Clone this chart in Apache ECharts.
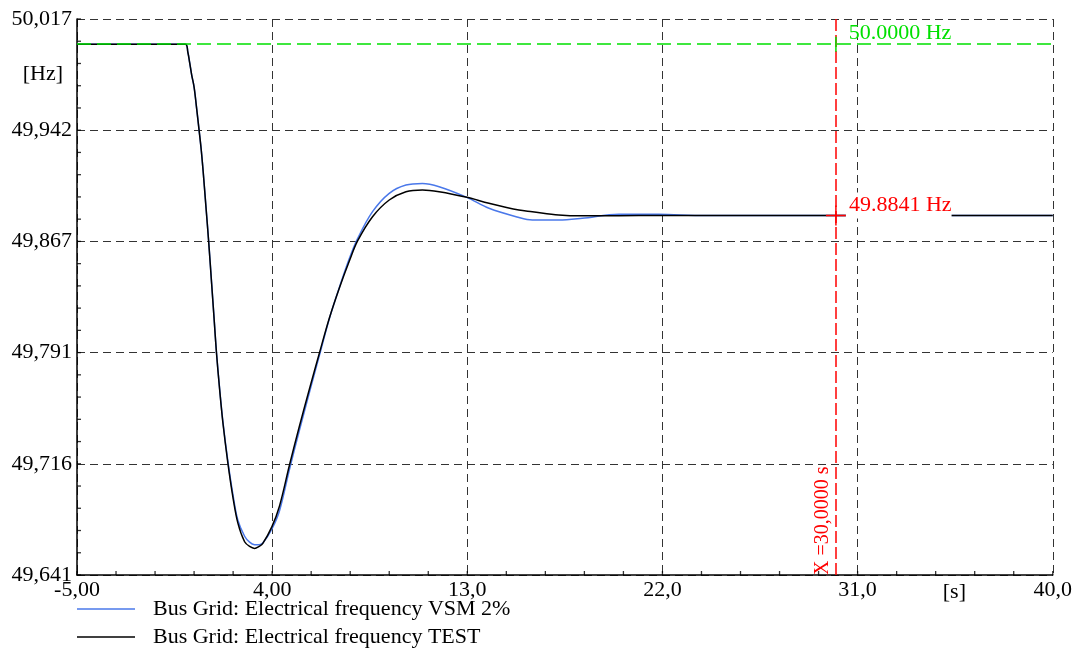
<!DOCTYPE html>
<html>
<head>
<meta charset="utf-8">
<script src="https://cdn.jsdelivr.net/npm/echarts@6/dist/echarts.min.js"></script>
<style>
  html, body { margin: 0; padding: 0; background: #fff; }
  #chart { width: 1075px; height: 652px; }
</style>
</head>
<body>
<div id="chart"></div>
<script>
// Simulation time [s]
const timeS = [-5, 0, 0.11, 0.2, 0.29, 0.4, 0.5, 0.63, 0.73, 0.82, 0.94, 1.07, 1.21, 1.32, 1.43, 1.58, 1.73, 1.96, 2.19, 2.42, 2.73, 2.96, 3.19, 3.4, 3.57, 3.99, 4.34, 4.8, 5.26, 5.72, 6.18, 6.64, 7.1, 7.56, 7.94, 8.63, 9.4, 10.17, 10.93, 11.7, 12.98, 14.0, 15.38, 16.0, 17.22, 18.3, 19.99, 21.83, 24, 30, 40];

// Bus Grid electrical frequency [Hz], VSM 2% case
const freqVsm = [50.0, 50.0, 49.9947, 49.9872, 49.9791, 49.9710, 49.9588, 49.9419, 49.9285, 49.9137, 49.8915, 49.8672, 49.8382, 49.8152, 49.7920, 49.7667, 49.7446, 49.7178, 49.6955, 49.6780, 49.6672, 49.6632, 49.6615, 49.6614, 49.6626, 49.6722, 49.6845, 49.7125, 49.7390, 49.7645, 49.7895, 49.8145, 49.8355, 49.8550, 49.8685, 49.8867, 49.8991, 49.9047, 49.9058, 49.9036, 49.8964, 49.8890, 49.8828, 49.8811, 49.8810, 49.8822, 49.8850, 49.8849, 49.8841, 49.8841, 49.8841];

// Bus Grid electrical frequency [Hz], TEST case
const freqTest = [50.0, 50.0, 49.9947, 49.9872, 49.9791, 49.9710, 49.9588, 49.9419, 49.9284, 49.9135, 49.8912, 49.8669, 49.8378, 49.8148, 49.7916, 49.7661, 49.7438, 49.7165, 49.6937, 49.6761, 49.6635, 49.6603, 49.6590, 49.6604, 49.6624, 49.6737, 49.6877, 49.7154, 49.7418, 49.7668, 49.7911, 49.8148, 49.8351, 49.8533, 49.8669, 49.8833, 49.8946, 49.9002, 49.9014, 49.9002, 49.8964, 49.8924, 49.8878, 49.8867, 49.8845, 49.8839, 49.8840, 49.8841, 49.8841, 49.8841, 49.8841];

const seriesNames = ['Bus Grid: Electrical frequency VSM 2%', 'Bus Grid: Electrical frequency TEST'];

// Axis ticks and their printed labels
const xTicks = [-5, 4, 13, 22, 31, 40];
const xTickLabels = ['-5,00', '4,00', '13,0', '22,0', '31,0', '40,0'];
const yTicks = [49.641, 49.7162, 49.7914, 49.8666, 49.9418, 50.017];
const yTickLabels = ['49,641', '49,716', '49,791', '49,867', '49,942', '50,017'];

// Reference line and cursor readout
const nominalHz = 50.0;
const nominalLabel = '50.0000 Hz';
const cursorS = 30;
const cursorHz = 49.8841;
const cursorLabel = 'X =30,0000 s';
const cursorValueLabel = '49.8841 Hz';

const FONT = 'Liberation Serif';
const FS = 22;

// Five minor divisions between neighbouring major ticks
function minorTicks(major) {
  const out = [];
  for (let i = 0; i < major.length - 1; i++) {
    const step = (major[i + 1] - major[i]) / 5;
    for (let k = 0; k < 5; k++) out.push(major[i] + k * step);
  }
  out.push(major[major.length - 1]);
  return out;
}

function labelFor(ticks, labels) {
  return function (v) {
    let best = 0;
    for (let i = 1; i < ticks.length; i++) {
      if (Math.abs(ticks[i] - v) < Math.abs(ticks[best] - v)) best = i;
    }
    return labels[best];
  };
}

const pairs = (ys) => timeS.map((t, i) => [t, ys[i]]);

const gridLine = { show: true, lineStyle: { color: '#333', type: [8, 5], width: 1 } };

// Short inward tick marks along the bottom and left axes, placed in data space
const xMinorMarks = minorTicks(xTicks).map((x) => [x, yTicks[0]]);
const yMinorMarks = minorTicks(yTicks).map((y) => [xTicks[0], y]);

const chart = echarts.init(document.getElementById('chart'), null, { renderer: 'canvas' });

chart.setOption({
  animation: false,
  backgroundColor: '#fff',
  grid: { left: 77, right: 20, top: 19, bottom: 77, containLabel: false },
  legend: {
    orient: 'vertical',
    left: 77,
    top: 597,
    padding: 0,
    itemWidth: 58,
    itemHeight: 1.5,
    itemGap: 4,
    icon: 'rect',
    data: seriesNames,
    textStyle: { fontFamily: FONT, fontSize: FS, lineHeight: 24, color: '#000', padding: [0, 0, 0, 13] }
  },
  xAxis: {
    type: 'value',
    min: xTicks[0],
    max: xTicks[xTicks.length - 1],
    position: 'bottom',
    name: '[s]',
    nameLocation: 'end',
    nameGap: -110,
    nameTextStyle: { fontFamily: FONT, fontSize: FS, color: '#000', verticalAlign: 'top', align: 'left', padding: [6, 0, 0, 0] },
    axisLine: { show: true, onZero: false, lineStyle: { color: '#000', width: 1.5 } },
    axisTick: { show: false, customValues: xTicks },
    axisLabel: {
      customValues: xTicks,
      formatter: labelFor(xTicks, xTickLabels),
      fontFamily: FONT, fontSize: FS, color: '#000', margin: 4
    },
    splitLine: gridLine
  },
  yAxis: {
    type: 'value',
    min: yTicks[0],
    max: yTicks[yTicks.length - 1],
    position: 'left',
    name: '[Hz]',
    nameLocation: 'end',
    nameGap: -55,
    nameTextStyle: { fontFamily: FONT, fontSize: FS, color: '#000', align: 'right', verticalAlign: 'middle', padding: [0, 14, 0, 0] },
    axisLine: { show: true, onZero: false, lineStyle: { color: '#000', width: 1.5 } },
    axisTick: { show: false, customValues: yTicks },
    axisLabel: {
      customValues: yTicks,
      formatter: labelFor(yTicks, yTickLabels),
      fontFamily: FONT, fontSize: FS, color: '#000', margin: 5
    },
    splitLine: gridLine
  },
  series: [
    {
      name: 'xMinorTicks',
      type: 'scatter',
      data: xMinorMarks,
      symbol: 'rect',
      symbolSize: [1.3, 4],
      symbolOffset: [0, -2],
      itemStyle: { color: '#000' },
      silent: true,
      clip: false,
      z: 3
    },
    {
      name: 'yMinorTicks',
      type: 'scatter',
      data: yMinorMarks,
      symbol: 'rect',
      symbolSize: [4, 1.3],
      symbolOffset: [2, 0],
      itemStyle: { color: '#000' },
      silent: true,
      clip: false,
      z: 3
    },
    {
      name: seriesNames[0],
      type: 'line',
      data: pairs(freqVsm),
      symbol: 'none',
      smooth: 0.35,
      lineStyle: { color: '#4a78ea', width: 1.5 },
      itemStyle: { color: '#4a78ea' }
    },
    {
      name: seriesNames[1],
      type: 'line',
      data: pairs(freqTest),
      symbol: 'none',
      smooth: 0.35,
      lineStyle: { color: '#000', width: 1.5 },
      itemStyle: { color: '#000' },
      markLine: {
        silent: true,
        symbol: 'none',
        animation: false,
        data: [
          {
            yAxis: nominalHz,
            lineStyle: { color: '#00e000', type: [14, 6], width: 1.5 },
            label: { show: false }
          },
          {
            xAxis: cursorS,
            lineStyle: { color: '#ff0000', type: [12, 4], width: 1.5 },
            label: {
              show: true,
              formatter: cursorLabel,
              position: 'insideStartTop',
              distance: [0, 3],
              padding: [0, 0, 0, 0],
              fontFamily: FONT, fontSize: 20, color: '#ff0000'
            }
          }
        ]
      },
      markPoint: {
        silent: true,
        animation: false,
        data: [
          {
            coord: [cursorS, nominalHz],
            symbol: 'rect',
            symbolSize: [1.5, 15],
            itemStyle: { color: '#00e000' },
            label: {
              show: true,
              formatter: nominalLabel,
              position: 'right',
              distance: 12,
              offset: [0, -11],
              fontFamily: FONT, fontSize: FS, color: '#00e000'
            }
          },
          {
            coord: [cursorS, cursorHz],
            symbol: 'rect',
            symbolSize: [1.5, 20],
            itemStyle: { color: '#ff0000' },
            label: { show: false }
          },
          {
            coord: [cursorS, cursorHz],
            symbol: 'rect',
            symbolSize: [20, 1.5],
            itemStyle: { color: '#ff0000' },
            label: {
              show: true,
              formatter: cursorValueLabel,
              position: 'right',
              distance: 0,
              offset: [0, -10],
              backgroundColor: '#fff',
              padding: [1, 0, 3, 3],
              fontFamily: FONT, fontSize: FS, color: '#ff0000'
            }
          }
        ]
      }
    }
  ]
});
</script>
</body>
</html>
